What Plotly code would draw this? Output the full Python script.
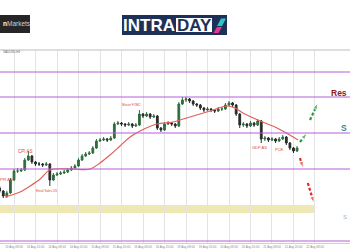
import plotly.graph_objects as go

# ---------------- data ----------------
candle_idx = list(range(84))
opens = [2412, 2409, 2404, 2407, 2420, 2429, 2429, 2430, 2440, 2444,
         2438, 2436, 2436, 2435, 2436, 2420, 2425, 2426, 2427, 2428,
         2430, 2432, 2434, 2440, 2444, 2446, 2447, 2452, 2459, 2460,
         2461, 2460, 2462, 2476, 2477, 2476, 2475, 2476, 2474, 2475,
         2486, 2484, 2486, 2483, 2484, 2472, 2470, 2476, 2477, 2476,
         2474, 2496, 2500, 2501, 2499, 2496, 2495, 2492, 2490, 2491,
         2490, 2489, 2491, 2491, 2495, 2497, 2495, 2486, 2475, 2476,
         2474, 2477, 2475, 2479, 2461, 2462, 2460, 2461, 2459, 2461,
         2463, 2457, 2452, 2449]
highs = [2414, 2410, 2409, 2422, 2431, 2432, 2432, 2442, 2449, 2445,
         2439, 2438, 2437, 2438, 2437, 2427, 2428, 2429, 2430, 2432,
         2434, 2436, 2442, 2446, 2448, 2449, 2454, 2461, 2462, 2463,
         2462, 2464, 2478, 2479, 2478, 2477, 2478, 2477, 2477, 2490,
         2487, 2488, 2487, 2486, 2485, 2473, 2478, 2479, 2478, 2477,
         2498, 2503, 2503, 2502, 2500, 2497, 2496, 2493, 2493, 2492,
         2491, 2493, 2493, 2497, 2499, 2498, 2496, 2487, 2478, 2477,
         2479, 2478, 2481, 2480, 2464, 2463, 2463, 2462, 2463, 2465,
         2464, 2458, 2453, 2454]
lows = [2407, 2402, 2402, 2406, 2419, 2427, 2428, 2429, 2439, 2436,
        2434, 2434, 2433, 2434, 2414, 2419, 2424, 2425, 2426, 2427,
        2429, 2431, 2433, 2439, 2443, 2445, 2446, 2451, 2458, 2459,
        2458, 2459, 2461, 2475, 2474, 2473, 2474, 2472, 2473, 2474,
        2482, 2483, 2481, 2482, 2470, 2468, 2469, 2475, 2474, 2472,
        2473, 2495, 2498, 2497, 2494, 2493, 2490, 2488, 2489, 2488,
        2487, 2488, 2489, 2490, 2494, 2493, 2484, 2472, 2473, 2472,
        2473, 2473, 2474, 2457, 2459, 2458, 2459, 2457, 2458, 2460,
        2455, 2450, 2447, 2448]
closes = [2409, 2404, 2407, 2420, 2429, 2429, 2430, 2440, 2444, 2438,
          2436, 2436, 2435, 2436, 2420, 2425, 2426, 2427, 2428, 2430,
          2432, 2434, 2440, 2444, 2446, 2447, 2452, 2459, 2460, 2461,
          2460, 2462, 2476, 2477, 2476, 2475, 2476, 2474, 2475, 2486,
          2484, 2486, 2483, 2484, 2472, 2470, 2476, 2477, 2476, 2474,
          2496, 2500, 2501, 2499, 2496, 2495, 2492, 2490, 2491, 2490,
          2489, 2491, 2491, 2495, 2497, 2495, 2486, 2475, 2476, 2474,
          2477, 2475, 2479, 2461, 2462, 2460, 2461, 2459, 2461, 2463,
          2457, 2452, 2449, 2452]

# moving average
ma_x = [1.5, 5.7, 8.5, 11.3, 14.0, 19.9, 25.2, 28.0, 30.8, 33.6, 36.4, 39.2,
        43.9, 48.4, 53.1, 58.7, 63.4, 65.7, 67.9, 72.7, 77.4, 83.3]
ma_y = [2403, 2408, 2414, 2421, 2430, 2431, 2431, 2437, 2445, 2454, 2463, 2469,
        2476, 2478, 2483, 2489, 2494, 2492, 2487, 2479, 2472, 2460]

# horizontal levels
levels = [2528, 2503, 2467, 2431, 2359]
zone_low, zone_high = 2387, 2395
zone_end = 88

# x tick (grid) positions and date labels
tick_pos = [4, 10, 16, 22, 28, 34, 40, 46, 52, 58, 64, 70, 76, 82, 88]
tick_labels = ["13 Aug 08:00", "13 Aug 20:00", "14 Aug 08:00", "14 Aug 20:00",
               "15 Aug 08:00", "15 Aug 20:00", "16 Aug 08:00", "16 Aug 20:00",
               "19 Aug 08:00", "19 Aug 20:00", "20 Aug 08:00", "20 Aug 20:00",
               "21 Aug 08:00", "21 Aug 20:00", "22 Aug 08:00"]

# event labels
event_text = ["PPI AS", "CPI AS", "Retail Sales US", "Minute FOMC", "GDP AS", "PCE"]
event_x = [2.0, 7.1, 13.2, 36.9, 72.4, 78.2]
event_y = [2421, 2449, 2409, 2495, 2453, 2451]
event_size = [4, 4.5, 3, 3, 4, 4]

# right-edge level labels (as visible in the picture)
side_text = ["<b>Res</b>", "<b>S</b>", "S"]
side_y = [2507, 2472, 2383]
side_colors = ["#8e1c1c", "#3a8c8c", "#9fb3c0"]
side_size = [8.5, 8.5, 6]

# scenario arrows (start -> end)
green_arrows = [([83.8, 85.8], [2458, 2467]), ([86.6, 88.8], [2480, 2497])]
red_arrows = [([83.8, 84.7], [2442, 2432]), ([86.0, 87.7], [2417, 2397])]

W, H = 350, 250
def px(x):
    return x / W
def py(y):
    return 1 - y / H

fig = go.Figure()

fig.add_trace(go.Candlestick(
    x=candle_idx, open=opens, high=highs, low=lows, close=closes,
    increasing=dict(line=dict(color="#2f6e3e", width=1), fillcolor="#2f6e3e"),
    decreasing=dict(line=dict(color="#2a2a2a", width=1), fillcolor="#2a2a2a"),
    whiskerwidth=0, showlegend=False, hoverinfo="skip"))

fig.add_trace(go.Scatter(x=ma_x, y=ma_y, mode="lines",
                         line=dict(color="#e0605a", width=1.2, shape="spline"),
                         showlegend=False, hoverinfo="skip"))

for xs, ys in green_arrows:
    fig.add_trace(go.Scatter(x=xs, y=ys, mode="lines+markers",
                             line=dict(color="#2e9b3a", width=2.2, dash="3px,2px"),
                             marker=dict(symbol=["circle", "arrow"], size=[0, 7],
                                         angleref="previous", color="#2e9b3a"),
                             showlegend=False, hoverinfo="skip", cliponaxis=False))
for xs, ys in red_arrows:
    fig.add_trace(go.Scatter(x=xs, y=ys, mode="lines+markers",
                             line=dict(color="#e02a2a", width=2.2, dash="3px,2px"),
                             marker=dict(symbol=["circle", "arrow"], size=[0, 7],
                                         angleref="previous", color="#e02a2a"),
                             showlegend=False, hoverinfo="skip", cliponaxis=False))

shapes = []
# yellow zone
shapes.append(dict(type="rect", xref="x", yref="y", x0=0, x1=zone_end,
                   y0=zone_low, y1=zone_high, fillcolor="#efe8b4",
                   line=dict(width=0), layer="below"))
# purple levels
for lv in levels:
    shapes.append(dict(type="line", xref="paper", yref="y", x0=0, x1=1,
                       y0=lv, y1=lv, line=dict(color="#b45ed8", width=1)))
# top border of chart
shapes.append(dict(type="line", xref="paper", yref="paper", x0=0, x1=1,
                   y0=py(50), y1=py(50), line=dict(color="#bdbdbd", width=1)))
# left logo box
shapes.append(dict(type="rect", xref="paper", yref="paper", x0=px(0), x1=px(30),
                   y0=py(33), y1=py(15), fillcolor="#262626", line=dict(width=0)))
# INTRADAY logo
shapes.append(dict(type="rect", xref="paper", yref="paper", x0=px(122), x1=px(227),
                   y0=py(35), y1=py(15), fillcolor="#1d3158", line=dict(width=0)))
shapes.append(dict(type="rect", xref="paper", yref="paper", x0=px(176), x1=px(212),
                   y0=py(32), y1=py(18), fillcolor="#ffffff", line=dict(width=0)))
def poly(pts):
    return "M " + " L ".join(f"{px(a):.5f},{py(b):.5f}" for a, b in pts) + " Z"
shapes.append(dict(type="path", xref="paper", yref="paper",
                   path=poly([(217, 26), (221, 18.5), (226, 18.5), (222, 26)]),
                   fillcolor="#2cc6c2", line=dict(width=0)))
shapes.append(dict(type="path", xref="paper", yref="paper",
                   path=poly([(213.5, 33), (217, 27), (222, 27), (218.5, 33)]),
                   fillcolor="#e8358c", line=dict(width=0)))

annotations = []
for t, x, y, s in zip(event_text, event_x, event_y, event_size):
    annotations.append(dict(x=x, y=y, xref="x", yref="y", text=t, showarrow=False,
                            font=dict(family="Liberation Sans", size=s, color="#e0463a")))
for t, y, c, s in zip(side_text, side_y, side_colors, side_size):
    annotations.append(dict(x=1, y=y, xref="paper", yref="y", text=t, showarrow=False,
                            xanchor="right", yanchor="middle", xshift=-1,
                            font=dict(family="Liberation Sans", size=s, color=c)))
annotations += [
    dict(x=px(1), y=py(52), xref="paper", yref="paper", text="XAUUSD,H4", showarrow=False,
         xanchor="left", yanchor="middle",
         font=dict(family="Liberation Sans", size=3, color="#666666")),
    dict(x=px(0.5), y=py(24), xref="paper", yref="paper",
         text="<b>n</b><span style='color:#cfcfcf'>Markets</span>", showarrow=False,
         xanchor="left", yanchor="middle",
         font=dict(family="Liberation Sans", size=6.5, color="#ffffff")),
    dict(x=px(149), y=py(25.5), xref="paper", yref="paper", text="<b>INTRA</b>",
         showarrow=False, xanchor="center", yanchor="middle",
         font=dict(family="Liberation Sans", size=17, color="#ffffff")),
    dict(x=px(194), y=py(25.5), xref="paper", yref="paper", text="<b>DAY</b>",
         showarrow=False, xanchor="center", yanchor="middle",
         font=dict(family="Liberation Sans", size=17, color="#1d3158")),
]

fig.update_layout(
    width=W, height=H, margin=dict(l=0, r=0, t=0, b=0),
    paper_bgcolor="#ffffff", plot_bgcolor="#ffffff",
    shapes=shapes, annotations=annotations,
    xaxis=dict(range=[0.092, 97.77], domain=[0, 1], rangeslider=dict(visible=False),
               tickmode="array", tickvals=tick_pos, ticktext=tick_labels,
               showgrid=True, gridcolor="#e4e4e4", gridwidth=1, zeroline=False,
               showline=True, linecolor="#cfcfcf", linewidth=1, ticks="",
               tickfont=dict(family="Liberation Sans", size=3, color="#8a8a8a"),
               fixedrange=True),
    yaxis=dict(range=[2357, 2550], domain=[1 - 243 / H, 1 - 50 / H],
               showgrid=False, zeroline=False, showticklabels=False, ticks="",
               fixedrange=True),
    showlegend=False,
)

fig.write_html("out.html")
